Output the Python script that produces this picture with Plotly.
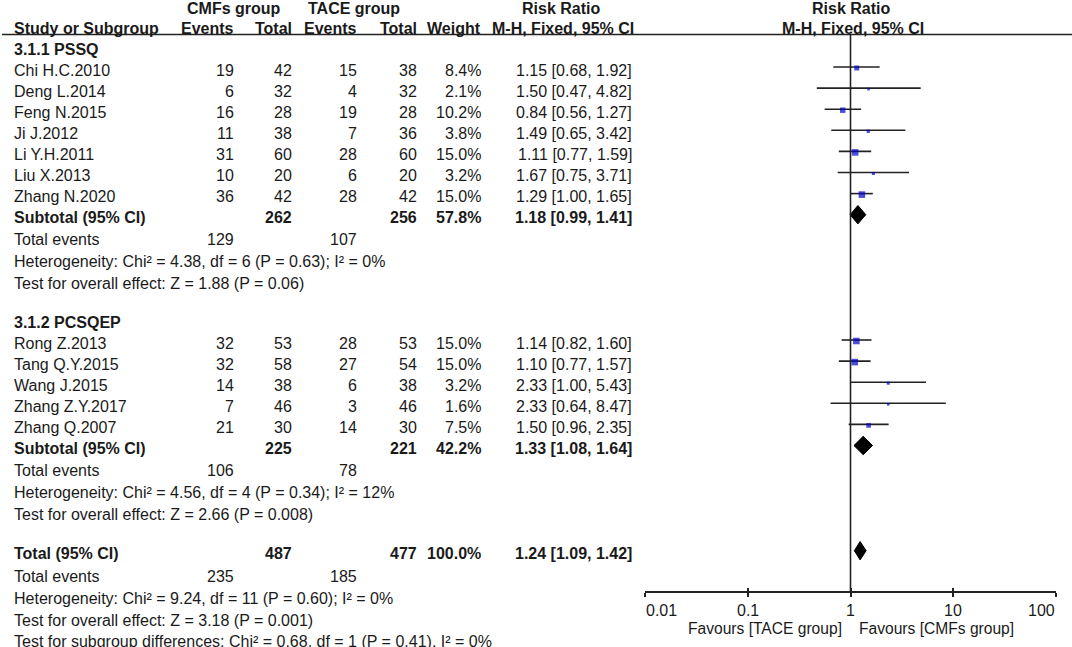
import math
import plotly.graph_objects as go

# ---------------- data ----------------
g1_studies = ["Chi H.C.2010", "Deng L.2014", "Feng N.2015", "Ji J.2012", "Li Y.H.2011", "Liu X.2013", "Zhang N.2020"]
g1_cmf_events = [19, 6, 16, 11, 31, 10, 36]
g1_cmf_total = [42, 32, 28, 38, 60, 20, 42]
g1_tace_events = [15, 4, 19, 7, 28, 6, 28]
g1_tace_total = [38, 32, 28, 36, 60, 20, 42]
g1_weight = [8.4, 2.1, 10.2, 3.8, 15.0, 3.2, 15.0]
g1_rr = [1.15, 1.50, 0.84, 1.49, 1.11, 1.67, 1.29]
g1_lo = [0.68, 0.47, 0.56, 0.65, 0.77, 0.75, 1.00]
g1_hi = [1.92, 4.82, 1.27, 3.42, 1.59, 3.71, 1.65]
g1_sub = dict(cmf_total=262, tace_total=256, weight=57.8, rr=1.18, lo=0.99, hi=1.41,
              cmf_events=129, tace_events=107)
g1_het = "Heterogeneity: Chi² = 4.38, df = 6 (P = 0.63); I² = 0%"
g1_test = "Test for overall effect: Z = 1.88 (P = 0.06)"

g2_studies = ["Rong Z.2013", "Tang Q.Y.2015", "Wang J.2015", "Zhang Z.Y.2017", "Zhang Q.2007"]
g2_cmf_events = [32, 32, 14, 7, 21]
g2_cmf_total = [53, 58, 38, 46, 30]
g2_tace_events = [28, 27, 6, 3, 14]
g2_tace_total = [53, 54, 38, 46, 30]
g2_weight = [15.0, 15.0, 3.2, 1.6, 7.5]
g2_rr = [1.14, 1.10, 2.33, 2.33, 1.50]
g2_lo = [0.82, 0.77, 1.00, 0.64, 0.96]
g2_hi = [1.60, 1.57, 5.43, 8.47, 2.35]
g2_sub = dict(cmf_total=225, tace_total=221, weight=42.2, rr=1.33, lo=1.08, hi=1.64,
              cmf_events=106, tace_events=78)
g2_het = "Heterogeneity: Chi² = 4.56, df = 4 (P = 0.34); I² = 12%"
g2_test = "Test for overall effect: Z = 2.66 (P = 0.008)"

tot = dict(cmf_total=487, tace_total=477, weight=100.0, rr=1.24, lo=1.09, hi=1.42,
           cmf_events=235, tace_events=185)
tot_het = "Heterogeneity: Chi² = 9.24, df = 11 (P = 0.60); I² = 0%"
tot_test = "Test for overall effect: Z = 3.18 (P = 0.001)"
tot_sub = "Test for subgroup differences: Chi² = 0.68, df = 1 (P = 0.41), I² = 0%"

group_titles = ["3.1.1 PSSQ", "3.1.2 PCSQEP"]
tick_values = [0.01, 0.1, 1, 10, 100]
tick_labels = ["0.01", "0.1", "1", "10", "100"]
null_value = 1
favours_left = "Favours [TACE group]"
favours_right = "Favours [CMFs group]"

# ---------------- layout constants (pixels) ----------------
W, H = 1072, 647
FONT = "Liberation Sans, Arial, sans-serif"
FS = 16
TXT = "#1a1a1a"
LINE = "#222222"
BLUE = "#0000cc"
ROW_H = 21.1
TEXT_DY = 3
G1_Y0 = 67.0
G2_Y0 = 340.0
AXIS_Y = 592
TICKLABEL_Y = 610
HDR_LINE_Y = 34.5
X_LEFT = 13
COLX = dict(ce=235, ct=293, te=358, tt=418, w=482, rr=633)
PLOT_X0, PLOT_X1 = 645, 1056
DIAMOND_HALF = 9.2

fig = go.Figure()
ann = []


def px(x):
    return x / W


def text(x, y, s, anchor="left", bold=False, size=FS):
    if bold:
        s = "<b>" + s + "</b>"
    ann.append(dict(x=px(x), y=y, xref="paper", yref="y", text=s, showarrow=False,
                    xanchor=anchor, yanchor="middle", font=dict(family=FONT, size=size, color=TXT),
                    borderpad=0))


def fmt_rr(r, l, h):
    return f"{r:.2f} [{l:.2f}, {h:.2f}]"


# header
text(234, 8, "CMFs group", "center", True)
text(354, 8, "TACE group", "center", True)
text(561, 8, "Risk Ratio", "center", True)
text(851, 8, "Risk Ratio", "center", True)
text(X_LEFT, 28.5, "Study or Subgroup", "left", True)
text(COLX["ce"], 28.5, "Events", "right", True)
text(COLX["ct"], 28.5, "Total", "right", True)
text(COLX["te"], 28.5, "Events", "right", True)
text(COLX["tt"], 28.5, "Total", "right", True)
text(COLX["w"], 28.5, "Weight", "right", True)
text(COLX["rr"] + 2, 28.5, "M-H, Fixed, 95% CI", "right", True)
text(853, 28.5, "M-H, Fixed, 95% CI", "center", True)

groups = [
    (g1_studies, g1_cmf_events, g1_cmf_total, g1_tace_events, g1_tace_total, g1_weight, g1_rr, g1_lo, g1_hi,
     g1_sub, g1_het, g1_test, G1_Y0),
    (g2_studies, g2_cmf_events, g2_cmf_total, g2_tace_events, g2_tace_total, g2_weight, g2_rr, g2_lo, g2_hi,
     g2_sub, g2_het, g2_test, G2_Y0),
]

ci_x, ci_y = [], []
sq_x, sq_y, sq_s = [], [], []
diamonds = []

for gi, (st, ce, ct, te, tt, w, rr, lo, hi, sub, het, test, y0) in enumerate(groups):
    text(X_LEFT, y0 - 18, group_titles[gi], "left", True)
    for i in range(len(st)):
        y = y0 + i * ROW_H
        ty = y + TEXT_DY
        text(X_LEFT, ty, st[i])
        text(COLX["ce"], ty, str(ce[i]), "right")
        text(COLX["ct"], ty, str(ct[i]), "right")
        text(COLX["te"], ty, str(te[i]), "right")
        text(COLX["tt"], ty, str(tt[i]), "right")
        text(COLX["w"], ty, f"{w[i]:.1f}%", "right")
        text(COLX["rr"], ty, fmt_rr(rr[i], lo[i], hi[i]), "right")
        ci_x += [lo[i], hi[i], None]
        ci_y += [y, y, None]
        sq_x.append(rr[i])
        sq_y.append(y + 1)
        sq_s.append(max(2.6, 1.7 * w[i] ** 0.5))
    ys = y0 + len(st) * ROW_H
    tys = ys + TEXT_DY
    text(X_LEFT, tys, "Subtotal (95% CI)", "left", True)
    text(COLX["ct"], tys, str(sub["cmf_total"]), "right", True)
    text(COLX["tt"], tys, str(sub["tace_total"]), "right", True)
    text(COLX["w"], tys, f"{sub['weight']:.1f}%", "right", True)
    text(COLX["rr"], tys, fmt_rr(sub["rr"], sub["lo"], sub["hi"]), "right", True)
    diamonds.append((sub["rr"], sub["lo"], sub["hi"], ys))
    text(X_LEFT, tys + 21.5, "Total events")
    text(COLX["ce"], tys + 21.5, str(sub["cmf_events"]), "right")
    text(COLX["te"], tys + 21.5, str(sub["tace_events"]), "right")
    text(X_LEFT, tys + 43.5, het)
    text(X_LEFT, tys + 65.5, test)

# overall
YT = 550.7
tyt = YT + 2.5
text(X_LEFT, tyt, "Total (95% CI)", "left", True)
text(COLX["ct"], tyt, str(tot["cmf_total"]), "right", True)
text(COLX["tt"], tyt, str(tot["tace_total"]), "right", True)
text(COLX["w"], tyt, f"{tot['weight']:.1f}%", "right", True)
text(COLX["rr"], tyt, fmt_rr(tot["rr"], tot["lo"], tot["hi"]), "right", True)
diamonds.append((tot["rr"], tot["lo"], tot["hi"], YT))
text(X_LEFT, 576.5, "Total events")
text(COLX["ce"], 576.5, str(tot["cmf_events"]), "right")
text(COLX["te"], 576.5, str(tot["tace_events"]), "right")
text(X_LEFT, 598.5, tot_het)
text(X_LEFT, 620, tot_test)
text(X_LEFT, 641.5, tot_sub)

# favours labels
text(843, 628, favours_left, "right", False, 15.6)
text(858, 628, favours_right, "left", False, 15.6)

# tick labels placed at the axis values (annotations on a log axis take log10 positions)
for k, (tv, tl) in enumerate(zip(tick_values, tick_labels)):
    anchor = "left" if k == 0 else ("right" if k == len(tick_values) - 1 else "center")
    ann.append(dict(x=math.log10(tv), y=TICKLABEL_Y, xref="x", yref="y", text=tl, showarrow=False,
                    xanchor=anchor, yanchor="middle", borderpad=0,
                    font=dict(family=FONT, size=FS, color=TXT)))

# traces
fig.add_trace(go.Scatter(x=ci_x, y=ci_y, mode="lines", line=dict(color=LINE, width=1.6),
                         hoverinfo="skip", showlegend=False))
fig.add_trace(go.Scatter(x=sq_x, y=sq_y, mode="markers",
                         marker=dict(symbol="square", size=sq_s, color=BLUE, line=dict(width=0)),
                         showlegend=False))
for r, l, h, y in diamonds:
    fig.add_trace(go.Scatter(x=[l, r, h, r, l], y=[y, y - DIAMOND_HALF, y, y + DIAMOND_HALF, y],
                             mode="lines", fill="toself", fillcolor="#000000",
                             line=dict(color="#000000", width=1), showlegend=False))
# invisible trace to keep the overlaid tick axis alive
fig.add_trace(go.Scatter(x=[1], y=[AXIS_Y], xaxis="x2", mode="markers",
                         marker=dict(opacity=0), showlegend=False, hoverinfo="skip"))

shapes = [
    dict(type="line", xref="paper", yref="y", x0=px(2), x1=1, y0=HDR_LINE_Y, y1=HDR_LINE_Y,
         line=dict(color=LINE, width=1.6)),
    dict(type="line", xref="x", yref="y", x0=null_value, x1=null_value, y0=HDR_LINE_Y, y1=AXIS_Y,
         line=dict(color=LINE, width=1.6)),
]

axis_pos = 1 - AXIS_Y / H
dom = [px(PLOT_X0), px(PLOT_X1)]
fig.update_layout(
    width=W, height=H, margin=dict(l=0, r=0, t=0, b=0, autoexpand=False),
    paper_bgcolor="white", plot_bgcolor="white",
    annotations=ann, shapes=shapes,
    xaxis=dict(type="log", range=[-2, 2], domain=dom, anchor="free", position=axis_pos,
               showline=True, linecolor=LINE, linewidth=1.6, ticks="outside", ticklen=4,
               tickwidth=1.6, tickcolor=LINE, tickvals=tick_values, showticklabels=False,
               showgrid=False, zeroline=False, fixedrange=True, automargin=False),
    xaxis2=dict(type="log", range=[-2, 2], domain=dom, anchor="free", position=axis_pos,
                overlaying="x", showline=False, ticks="inside", ticklen=4, tickwidth=1.6,
                tickcolor=LINE, tickvals=tick_values, showticklabels=False, showgrid=False,
                zeroline=False, fixedrange=True, automargin=False),
    yaxis=dict(range=[H, 0], domain=[0, 1], visible=False, fixedrange=True, automargin=False),
    showlegend=False,
)

fig.write_html(
    "out.html",
    config={"responsive": False, "displayModeBar": False},
    post_script="document.body.style.margin='0';document.body.style.padding='0';"
                "document.body.style.overflow='hidden';",
)
